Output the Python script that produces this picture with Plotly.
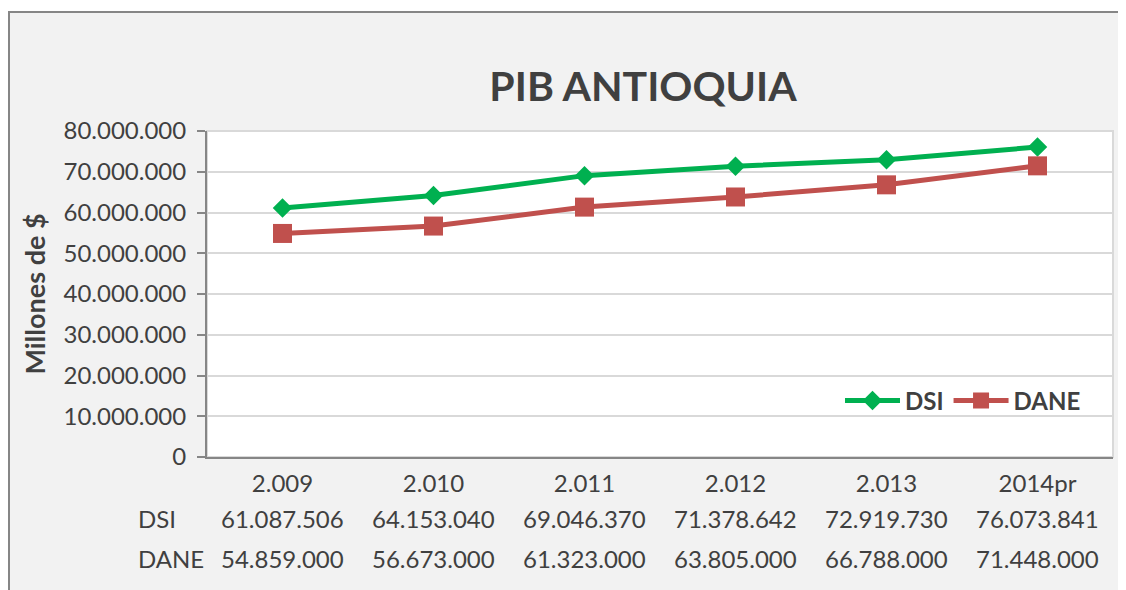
import plotly.graph_objects as go

categories = ["2.009", "2.010", "2.011", "2.012", "2.013", "2014pr"]
dsi = [61087506, 64153040, 69046370, 71378642, 72919730, 76073841]
dane = [54859000, 56673000, 61323000, 63805000, 66788000, 71448000]
series_names = ["DSI", "DANE"]
ytick_vals = [0, 10000000, 20000000, 30000000, 40000000, 50000000, 60000000, 70000000, 80000000]

OFF = 8  # page body margin
W, H = 1126 - OFF, 590 - OFF
FONT = "Lato"
TXT = "#404040"
FS = 24

def fmt(v):
    return f"{v:,}".replace(",", ".")

def px(x):
    return (x - OFF) / W

def py(y):
    return 1 - (y - OFF) / H

fig = go.Figure()
fig.add_trace(go.Scatter(x=list(range(len(categories))), y=dsi, name="<b>" + series_names[0] + "</b>",
                         mode="lines+markers",
                         line=dict(color="#00b050", width=5),
                         marker=dict(symbol="diamond", size=15, color="#00b050")))
fig.add_trace(go.Scatter(x=list(range(len(categories))), y=dane, name="<b>" + series_names[1] + "</b>",
                         mode="lines+markers",
                         line=dict(color="#c0504d", width=5),
                         marker=dict(symbol="square", size=19, color="#c0504d")))

px_l, px_r, px_t, px_b = 207, 1113, 131, 457

# outer chart frame (right and bottom edges fall outside the picture)
fig.add_shape(type="rect", xref="paper", yref="paper",
              x0=1 / W, x1=1.03, y0=-0.04, y1=py(12),
              fillcolor="#f2f2f2", line=dict(color="#868686", width=2), layer="below")
# plot area frame
fig.add_shape(type="rect", xref="paper", yref="paper",
              x0=px(px_l), x1=px(px_r), y0=py(px_b), y1=py(px_t),
              fillcolor="white", line=dict(color="#d9d9d9", width=2), layer="below")

annotations = []
rows = [(series_names[0], dsi, 518), (series_names[1], dane, 558)]
for name, vals, ypx in rows:
    annotations.append(dict(x=px(136), y=py(ypx), xref="paper", yref="paper", text=name,
                            showarrow=False, xanchor="left", yanchor="middle",
                            font=dict(family=FONT, size=FS, color=TXT)))
    for i, v in enumerate(vals):
        annotations.append(dict(x=i, y=py(ypx), xref="x", yref="paper", text=fmt(v),
                                showarrow=False, xanchor="center", yanchor="middle",
                                font=dict(family=FONT, size=FS, color=TXT)))

fig.update_layout(
    width=W, height=H,
    margin=dict(l=0, r=0, t=0, b=0, pad=0),
    paper_bgcolor="white", plot_bgcolor="rgba(0,0,0,0)",
    font=dict(family=FONT, color=TXT),
    title=dict(text="<b>PIB ANTIOQUIA</b>", x=px(643), xanchor="center", y=py(87), yanchor="middle",
               font=dict(family=FONT, size=41, color=TXT), automargin=False),
    xaxis=dict(domain=[px(px_l), px(px_r)], tickmode="array", tickvals=list(range(len(categories))),
               ticktext=categories,
               range=[-0.5, 5.5], showgrid=False, showline=True, linecolor="#868686", linewidth=2,
               ticks="", tickfont=dict(family=FONT, size=FS, color=TXT), ticklabelstandoff=4,
               zeroline=False, automargin=False),
    yaxis=dict(domain=[py(px_b), py(px_t)], range=[0, 80000000], tickvals=ytick_vals,
               ticktext=[fmt(v) for v in ytick_vals],
               showgrid=True, gridcolor="#d9d9d9", gridwidth=2,
               showline=True, linecolor="#868686", linewidth=2,
               ticks="outside", ticklen=8, tickcolor="#868686", tickwidth=2,
               tickfont=dict(family=FONT, size=FS, color=TXT), ticklabelstandoff=6,
               zeroline=False, automargin=False,
               title=dict(text="<b>Millones de $</b>", font=dict(family=FONT, size=27, color=TXT), standoff=10)),
    legend=dict(orientation="h", x=px(1086), xanchor="right", y=py(401), yanchor="middle",
                bgcolor="rgba(0,0,0,0)", font=dict(family=FONT, size=FS, color=TXT), itemwidth=55,
                traceorder="normal"),
    annotations=annotations,
    showlegend=True,
)

fig.write_html("out.html")
